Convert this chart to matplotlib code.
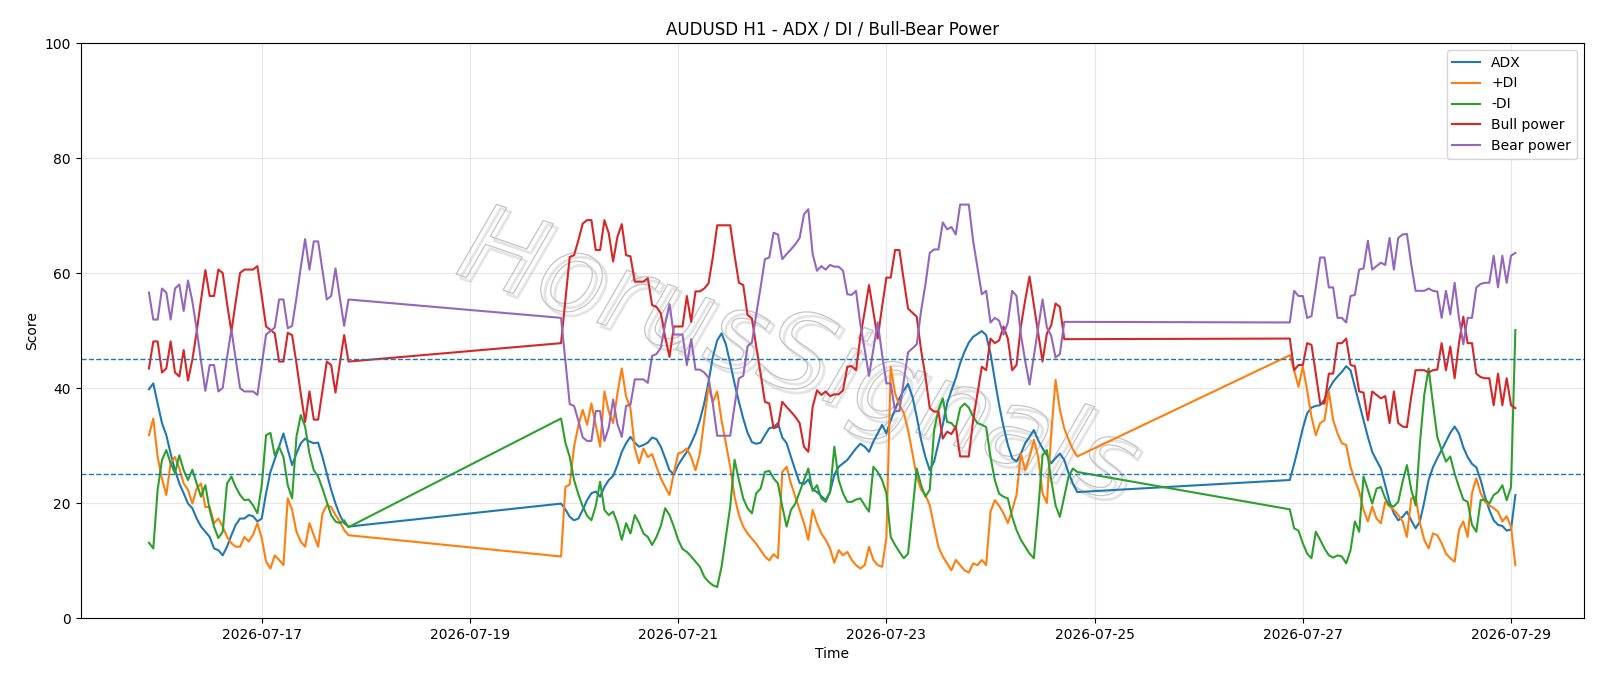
"""
AUDUSD H1 - ADX / DI / Bull-Bear Power.
Hourly bars in three sessions (weekend gaps are bridged by straight lines).
"""
import matplotlib

matplotlib.use("Agg")
import matplotlib.dates as mdates
import matplotlib.patheffects as pe
import matplotlib.pyplot as plt
import pandas as pd

SEG_STARTS = ["2026-07-15 22:00", "2026-07-19 21:00", "2026-07-26 21:00"]
SEG_LENGTHS = [47, 120, 53]

adx = [
    # session 1
    39.8, 40.8, 37.3, 33.9, 31.8, 28.6, 25.7, 23.4, 21.7, 19.9,
    19.1, 17.3, 15.9, 15.0, 14.1, 12.1, 11.8, 10.9, 12.4, 14.4,
    16.2, 17.3, 17.3, 17.9, 17.7, 16.8, 17.3, 21.7, 25.4, 27.6,
    29.8, 32.1, 29.3, 26.6, 28.6, 30.4, 31.2, 30.7, 30.4, 30.5,
    28.0, 25.1, 22.3, 19.9, 17.9, 16.5, 15.9,
    # session 2
    19.9, 18.9, 17.6, 17.0, 17.3, 18.8, 20.5, 21.7, 22.0, 21.1,
    22.8, 24.0, 24.7, 26.6, 28.9, 30.4, 31.5, 30.5, 29.8, 30.1,
    30.5, 31.4, 31.1, 29.8, 27.8, 25.7, 25.0, 26.6, 27.8, 28.9,
    30.4, 32.1, 34.4, 37.3, 41.1, 45.4, 48.3, 49.5, 47.6, 44.3,
    40.8, 37.6, 34.7, 32.2, 30.6, 30.3, 30.5, 31.8, 33.0, 33.2,
    33.9, 31.4, 30.4, 28.0, 25.7, 23.5, 23.3, 24.1, 22.4, 21.9,
    21.2, 20.5, 21.9, 24.9, 26.3, 26.9, 27.5, 28.5, 29.5, 30.3,
    29.8, 28.9, 30.7, 32.1, 33.6, 32.1, 34.4, 36.2, 38.2, 39.6,
    40.7, 38.5, 35.0, 31.0, 28.0, 25.7, 27.2, 30.4, 33.6, 37.3,
    39.6, 41.7, 44.3, 46.3, 47.9, 48.9, 49.4, 49.9, 49.2, 46.0,
    41.4, 37.0, 33.3, 30.1, 27.8, 27.2, 28.6, 30.4, 31.5, 32.7,
    30.9, 29.5, 28.3, 26.9, 27.8, 28.6, 27.5, 25.2, 23.4, 21.9,
    # session 3
    24.0, 26.8, 29.8, 33.0, 35.6, 36.6, 36.9, 37.0, 38.0, 39.8,
    41.1, 42.0, 42.8, 43.8, 43.1, 40.2, 37.3, 34.4, 31.5, 28.9,
    27.4, 26.0, 23.1, 20.2, 18.2, 17.0, 17.6, 18.5, 17.0, 15.6,
    16.8, 20.2, 24.0, 26.2, 27.8, 29.2, 30.7, 32.2, 33.3, 32.1,
    29.7, 28.0, 26.8, 26.2, 24.0, 21.1, 18.8, 17.0, 16.2, 16.0,
    15.2, 15.4, 21.4,
]

plus_di = [
    31.8, 34.7, 28.0, 24.2, 21.4, 27.0, 28.0, 26.0, 23.4, 22.3,
    19.9, 22.5, 23.4, 19.3, 19.3, 16.5, 17.3, 15.9, 14.1, 13.0,
    12.4, 12.4, 14.1, 13.3, 14.5, 16.5, 13.9, 9.8, 8.6, 10.9,
    10.1, 9.2, 20.8, 18.8, 15.0, 13.3, 12.4, 16.5, 14.4, 12.4,
    18.2, 19.6, 19.3, 17.9, 16.8, 15.3, 14.4,
    10.7, 22.8, 23.2, 29.8, 33.5, 36.2, 33.6, 37.3, 33.6, 29.8,
    39.4, 35.9, 33.9, 39.1, 43.4, 38.5, 36.5, 29.5, 26.9, 29.5,
    28.0, 28.5, 26.3, 24.3, 22.8, 21.4, 25.2, 28.6, 28.9, 29.5,
    28.0, 25.7, 28.6, 34.4, 40.2, 37.6, 39.4, 34.4, 30.4, 26.3,
    21.1, 17.9, 15.9, 14.7, 13.8, 12.9, 11.8, 10.7, 10.0, 11.1,
    10.4, 25.4, 26.3, 23.4, 21.1, 18.8, 16.5, 13.6, 18.8, 16.5,
    14.7, 13.6, 12.1, 9.6, 11.8, 10.9, 11.5, 10.1, 9.2, 8.6,
    9.2, 12.4, 10.1, 9.2, 8.9, 13.9, 43.7, 39.1, 37.0, 35.7,
    32.7, 28.6, 24.6, 22.3, 21.4, 19.6, 15.9, 12.4, 10.7, 9.5,
    8.3, 10.1, 9.2, 8.3, 7.9, 9.5, 9.2, 10.1, 9.2, 18.5,
    20.5, 19.5, 18.2, 16.5, 18.8, 21.4, 28.6, 25.7, 28.0, 31.0,
    28.0, 21.7, 20.0, 32.1, 41.4, 36.2, 33.0, 31.0, 29.3, 28.1,
    45.7, 43.1, 40.2, 43.7, 39.6, 35.0, 31.8, 33.9, 34.4, 39.4,
    34.4, 32.1, 30.4, 30.1, 26.3, 24.0, 22.0, 18.8, 16.8, 19.4,
    17.3, 16.5, 20.2, 19.4, 18.8, 17.9, 16.8, 14.1, 20.8, 21.1,
    16.5, 13.6, 12.1, 14.7, 14.4, 13.0, 11.2, 10.4, 9.8, 15.3,
    16.8, 14.1, 21.7, 24.3, 21.7, 20.2, 19.6, 19.1, 18.5, 16.8,
    17.7, 15.9, 9.2,
]

minus_di = [
    13.1, 12.1, 22.3, 27.5, 29.2, 26.9, 25.2, 28.3, 25.7, 24.0,
    25.8, 23.4, 21.1, 23.1, 18.8, 15.9, 13.9, 15.0, 23.4, 24.6,
    22.8, 21.4, 20.5, 20.6, 19.6, 18.2, 23.1, 31.8, 32.2, 28.3,
    29.8, 28.0, 23.1, 20.8, 31.5, 35.3, 33.3, 28.6, 25.7, 24.6,
    22.5, 20.2, 17.9, 16.8, 16.5, 17.0, 15.8,
    34.7, 30.5, 28.0, 24.0, 21.5, 19.4, 17.8, 17.0, 19.5, 23.7,
    18.8, 17.9, 18.5, 16.5, 13.6, 16.5, 14.7, 17.9, 16.5, 14.7,
    14.1, 12.7, 14.1, 16.0, 19.1, 17.9, 15.9, 13.6, 12.0, 11.5,
    10.7, 9.8, 8.9, 7.2, 6.3, 5.7, 5.4, 8.9, 14.1, 19.4,
    27.5, 24.0, 20.8, 19.1, 18.2, 21.7, 22.5, 25.4, 25.6, 24.3,
    23.4, 19.4, 15.9, 18.8, 19.9, 21.9, 24.0, 26.0, 22.1, 23.1,
    20.8, 20.2, 21.9, 29.8, 24.0, 21.7, 20.2, 20.2, 20.6, 20.8,
    19.6, 18.5, 26.3, 25.4, 24.0, 21.7, 14.1, 12.7, 11.5, 10.4,
    11.2, 18.5, 26.0, 23.1, 21.1, 22.3, 32.7, 36.2, 38.2, 34.1,
    33.9, 33.0, 36.5, 37.3, 36.6, 35.0, 33.9, 33.6, 33.2, 28.0,
    24.0, 21.6, 21.1, 20.8, 17.6, 15.3, 13.6, 12.4, 11.2, 10.4,
    18.8, 28.3, 29.2, 24.0, 19.6, 17.6, 21.1, 24.6, 26.0, 25.4,
    18.9, 15.6, 15.2, 13.0, 11.2, 10.4, 15.0, 13.6, 12.1, 10.9,
    10.5, 10.9, 10.7, 9.5, 11.8, 16.8, 15.0, 24.6, 22.3, 19.9,
    22.5, 22.8, 20.8, 19.6, 19.4, 20.2, 23.7, 26.6, 22.3, 19.6,
    30.4, 38.8, 43.4, 37.3, 31.5, 29.2, 27.2, 28.1, 25.1, 22.8,
    20.6, 20.2, 16.2, 15.0, 20.5, 20.6, 19.9, 21.4, 21.9, 23.1,
    20.5, 22.8, 50.1,
]

bull_power = [
    43.4, 48.1, 48.1, 42.7, 43.4, 48.1, 42.7, 42.0, 46.6, 41.3,
    44.9, 49.8, 55.3, 60.5, 56.0, 56.0, 60.6, 60.0, 54.7, 49.8,
    55.0, 60.0, 60.6, 60.6, 60.6, 61.2, 55.9, 50.7, 50.1, 49.5,
    44.6, 44.6, 49.6, 49.2, 44.3, 39.0, 34.1, 39.4, 34.5, 34.5,
    39.6, 44.6, 44.0, 39.2, 44.3, 49.2, 44.6,
    47.8, 55.3, 62.8, 63.1, 65.7, 68.6, 69.2, 69.2, 64.0, 64.0,
    69.2, 66.9, 62.0, 66.3, 68.5, 63.1, 62.9, 58.5, 58.5, 58.5,
    59.1, 54.4, 54.1, 53.0, 48.9, 45.4, 50.7, 50.7, 50.7, 56.0,
    51.5, 56.8, 56.8, 57.3, 58.2, 62.8, 68.3, 68.3, 68.3, 68.3,
    63.1, 58.3, 57.9, 52.7, 52.1, 47.2, 42.5, 37.6, 37.3, 33.0,
    33.3, 37.6, 36.7, 35.9, 35.0, 33.9, 29.8, 28.9, 36.7, 39.6,
    38.8, 39.4, 38.6, 38.9, 38.9, 39.6, 43.7, 43.8, 43.1, 48.9,
    53.3, 57.9, 53.3, 48.6, 54.1, 59.2, 59.2, 64.0, 64.0, 58.8,
    53.8, 53.1, 52.4, 46.6, 42.0, 36.5, 35.9, 35.9, 31.2, 32.4,
    32.0, 33.3, 28.1, 28.1, 28.1, 34.4, 39.1, 43.7, 43.1, 48.6,
    47.8, 48.3, 50.7, 48.6, 43.1, 44.0, 50.7, 55.3, 59.4, 54.4,
    49.5, 44.6, 49.5, 50.9, 54.7, 54.1, 48.5, 48.5, 48.5, 48.5,
    48.6, 43.1, 44.0, 44.0, 47.8, 47.5, 42.5, 37.3, 37.3, 42.5,
    42.5, 47.8, 47.8, 48.6, 44.0, 43.8, 39.4, 39.2, 34.4, 39.4,
    38.8, 38.2, 38.6, 33.9, 39.4, 33.9, 33.3, 33.2, 38.5, 43.1,
    43.1, 43.1, 42.7, 43.1, 43.2, 47.8, 43.1, 47.2, 41.7, 47.8,
    52.4, 47.8, 47.8, 42.5, 41.9, 41.7, 41.7, 37.0, 42.5, 37.0,
    41.7, 37.0, 36.5,
]

bear_power = [
    56.6, 51.9, 51.9, 57.3, 56.6, 51.9, 57.3, 58.0, 53.4, 58.7,
    55.1, 50.2, 44.7, 39.5, 44.0, 44.0, 39.4, 40.0, 45.3, 50.2,
    45.0, 40.0, 39.4, 39.4, 39.4, 38.8, 44.1, 49.3, 49.9, 50.5,
    55.4, 55.4, 50.4, 50.8, 55.7, 61.0, 65.9, 60.6, 65.5, 65.5,
    60.4, 55.4, 56.0, 60.8, 55.7, 50.8, 55.4,
    52.2, 44.7, 37.2, 36.9, 34.3, 31.4, 30.8, 30.8, 36.0, 36.0,
    30.8, 33.1, 38.0, 33.7, 31.5, 36.9, 37.1, 41.5, 41.5, 41.5,
    40.9, 45.6, 45.9, 47.0, 51.1, 54.6, 49.3, 49.3, 49.3, 44.0,
    48.5, 43.2, 43.2, 42.7, 41.8, 37.2, 31.7, 31.7, 31.7, 31.7,
    36.9, 41.7, 42.1, 47.3, 47.9, 52.8, 57.5, 62.4, 62.7, 67.0,
    66.7, 62.4, 63.3, 64.1, 65.0, 66.1, 70.2, 71.1, 63.3, 60.4,
    61.2, 60.6, 61.4, 61.1, 61.1, 60.4, 56.3, 56.2, 56.9, 51.1,
    46.7, 42.1, 46.7, 51.4, 45.9, 40.8, 40.8, 36.0, 36.0, 41.2,
    46.2, 46.9, 47.6, 53.4, 58.0, 63.5, 64.1, 64.1, 68.8, 67.6,
    68.0, 66.7, 71.9, 71.9, 71.9, 65.6, 60.9, 56.3, 56.9, 51.4,
    52.2, 51.7, 49.3, 51.4, 56.9, 56.0, 49.3, 44.7, 40.6, 45.6,
    50.5, 55.4, 50.5, 49.1, 45.3, 45.9, 51.5, 51.5, 51.5, 51.5,
    51.4, 56.9, 56.0, 56.0, 52.2, 52.5, 57.5, 62.7, 62.7, 57.5,
    57.5, 52.2, 52.2, 51.4, 56.0, 56.2, 60.6, 60.8, 65.6, 60.6,
    61.2, 61.8, 61.4, 66.1, 60.6, 66.1, 66.7, 66.8, 61.5, 56.9,
    56.9, 56.9, 57.3, 56.9, 56.8, 52.2, 56.9, 52.8, 58.3, 52.2,
    47.6, 52.2, 52.2, 57.5, 58.1, 58.3, 58.3, 63.0, 57.5, 63.0,
    58.3, 63.0, 63.5,
]

ADX_LEVELS = [45, 25]
WATERMARK = "HorusSignals"


def main() -> None:
    times = pd.DatetimeIndex([])
    for start, n in zip(SEG_STARTS, SEG_LENGTHS):
        times = times.append(pd.date_range(start, periods=n, freq="h"))

    fig, ax = plt.subplots(figsize=(16, 6.86), dpi=100)
    fig.subplots_adjust(left=0.0504, right=0.9898, top=0.9373, bottom=0.0991)

    # marca d'agua: contorno cinza claro com sombra leve
    ax.text(0.477, 0.45, WATERMARK, transform=ax.transAxes, ha="center",
            va="center", rotation=-19, fontsize=78, fontstyle="italic",
            color=(1, 1, 1, 0), zorder=0.5,
            path_effects=[
                pe.Stroke(linewidth=2.0, foreground="#e4e4e4", offset=(3, -3)),
                pe.Stroke(linewidth=0.9, foreground="#c4c4c4"),
            ])

    ax.plot(times, adx, label="ADX")
    ax.plot(times, plus_di, label="+DI")
    ax.plot(times, minus_di, label="-DI")
    ax.plot(times, bull_power, label="Bull power")
    ax.plot(times, bear_power, label="Bear power")
    for level in ADX_LEVELS:
        ax.axhline(level, color="C0", linestyle="--", linewidth=1.0)

    ax.set_ylim(0, 100)
    ax.xaxis.set_major_locator(mdates.DayLocator(bymonthday=range(1, 32, 2)))
    ax.xaxis.set_major_formatter(mdates.DateFormatter("%Y-%m-%d"))
    ax.set_title("AUDUSD H1 - ADX / DI / Bull-Bear Power")
    ax.set_xlabel("Time")
    ax.set_ylabel("Score")
    ax.grid(True, alpha=0.3)
    ax.legend(loc="upper right")

    fig.savefig("out.png", dpi=100)
    plt.close(fig)


if __name__ == "__main__":
    main()
